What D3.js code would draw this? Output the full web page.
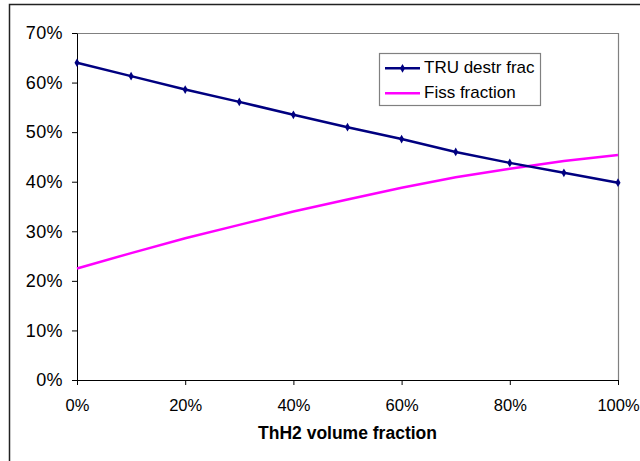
<!DOCTYPE html>
<html lang="en">
<head>
    <meta charset="UTF-8">
    <title>TRU destruction vs ThH2 volume fraction</title>
    <script src="https://d3js.org/d3.v7.min.js"></script>
    <style>
        body {
            margin: 0;
            background-color: white;
            font-family: 'Liberation Sans', Arial, sans-serif;
        }
        .axis text {
            fill: #000;
        }
        .y-axis text {
            font-size: 18px;
            letter-spacing: 0.4px;
        }
        .x-axis text {
            font-size: 16.5px;
        }
        .axis-label {
            font-size: 17.5px;
            font-weight: bold;
        }
        .legend text {
            font-size: 17px;
        }
    </style>
</head>
<body>
    <svg id="chart"></svg>

    <script>
        // ThH2 volume fraction (x) and the two series, in percent
        const thFraction = [0, 10, 20, 30, 40, 50, 60, 70, 80, 90, 100];
        const truDestr = [64.0, 61.3, 58.6, 56.1, 53.5, 51.0, 48.6, 46.0, 43.8, 41.8, 39.8];
        const fissFraction = [22.5, 25.6, 28.6, 31.3, 34.0, 36.4, 38.8, 40.9, 42.6, 44.2, 45.4];
        const xTicks = [0, 20, 40, 60, 80, 100];
        const yTicks = [0, 10, 20, 30, 40, 50, 60, 70];

        const W = 640, H = 461;
        const margin = { top: 33, right: 22, bottom: 81, left: 77 };
        const width = W - margin.left - margin.right;
        const height = H - margin.top - margin.bottom;

        const root = d3.select("#chart")
            .attr("width", W)
            .attr("height", H);

        // outer chart frame (runs off the right and bottom edges)
        root.append("rect")
            .attr("x", 9.5)
            .attr("y", 4.5)
            .attr("width", 700)
            .attr("height", 600)
            .attr("fill", "none")
            .attr("stroke", "#222")
            .attr("stroke-width", 1.5);

        const svg = root.append("g")
            .attr("transform", `translate(${margin.left},${margin.top})`);

        const x = d3.scaleLinear().domain([0, 100]).range([0, width]);
        const y = d3.scaleLinear().domain([0, 70]).range([height, 0]);

        // plot area border: gray top and right
        svg.append("path")
            .attr("d", `M0,0.5H${width + 0.5}V${height}`)
            .attr("fill", "none")
            .attr("stroke", "#808080")
            .attr("stroke-width", 1.2);

        const fmt = d => d + "%";

        svg.append("g")
            .attr("class", "axis x-axis")
            .attr("transform", `translate(0,${height})`)
            .call(d3.axisBottom(x).tickValues(xTicks).tickFormat(fmt).tickSize(5).tickSizeOuter(0).tickPadding(14))
            .call(g => g.selectAll("path, line").attr("stroke", "#000"));

        svg.append("g")
            .attr("class", "axis y-axis")
            .call(d3.axisLeft(y).tickValues(yTicks).tickFormat(fmt).tickSize(5).tickSizeOuter(0).tickPadding(9))
            .call(g => g.selectAll("path, line").attr("stroke", "#000"));

        svg.selectAll(".axis text").attr("font-family", "'Liberation Sans', Arial, sans-serif");

        svg.append("text")
            .attr("class", "axis-label")
            .attr("x", width / 2)
            .attr("y", height + 59)
            .style("text-anchor", "middle")
            .text("ThH2 volume fraction");

        const line = d3.line()
            .x(d => x(d[0]))
            .y(d => y(d[1]));

        const truPts = thFraction.map((t, i) => [t, truDestr[i]]);
        const fissPts = thFraction.map((t, i) => [t, fissFraction[i]]);

        svg.append("path")
            .datum(fissPts)
            .attr("fill", "none")
            .attr("stroke", "#ff00ff")
            .attr("stroke-width", 2.5)
            .attr("d", line);

        svg.append("path")
            .datum(truPts)
            .attr("fill", "none")
            .attr("stroke", "#000080")
            .attr("stroke-width", 2.5)
            .attr("d", line);

        const diamond = d3.symbol().type(d3.symbolDiamond).size(22);
        svg.selectAll(".tru-marker")
            .data(truPts)
            .enter()
            .append("path")
            .attr("class", "tru-marker")
            .attr("transform", d => `translate(${x(d[0])},${y(d[1])})`)
            .attr("d", diamond)
            .attr("fill", "#000080");

        // legend
        const legend = root.append("g")
            .attr("class", "legend")
            .attr("transform", "translate(379,53)");

        legend.append("rect")
            .attr("x", 0.5)
            .attr("y", 0.5)
            .attr("width", 161)
            .attr("height", 52)
            .attr("fill", "white")
            .attr("stroke", "#808080")
            .attr("stroke-width", 1.2);

        const items = [
            { name: "TRU destr frac", color: "#000080", marker: true },
            { name: "Fiss fraction", color: "#ff00ff", marker: false }
        ];

        items.forEach((it, i) => {
            const cy = 15.3 + i * 25;
            legend.append("line")
                .attr("x1", 6).attr("x2", 41)
                .attr("y1", cy).attr("y2", cy)
                .attr("stroke", it.color)
                .attr("stroke-width", 2.5);
            if (it.marker) {
                legend.append("path")
                    .attr("transform", `translate(23.5,${cy})`)
                    .attr("d", diamond)
                    .attr("fill", it.color);
            }
            legend.append("text")
                .attr("x", 45)
                .attr("y", cy + 4.5)
                .text(it.name);
        });
    </script>
</body>
</html>
